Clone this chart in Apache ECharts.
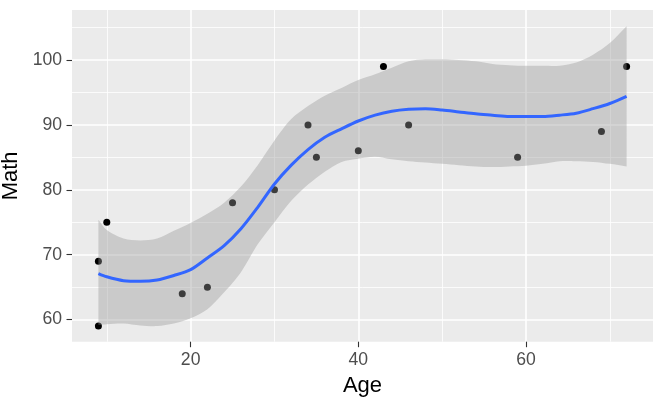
<!DOCTYPE html>
<html>
<head>
<meta charset="utf-8">
<script src="https://cdn.jsdelivr.net/npm/echarts@6/dist/echarts.min.js"></script>
<style>html,body{margin:0;padding:0;background:#fff}#c{width:658px;height:405px}</style>
</head>
<body>
<div id="c"></div>
<script>
// Observed points
const ages = [9, 9, 10, 19, 22, 25, 30, 34, 35, 40, 43, 46, 59, 69, 72];
const math = [59, 69, 75, 64, 65, 78, 80, 90, 85, 86, 99, 90, 85, 89, 99];

// Loess smooth
const fitAge   = [9, 10, 12, 14, 16, 18, 20, 22, 24, 26, 28, 30, 32, 34, 36, 38, 40, 42, 44, 46, 48, 50, 52, 54, 56, 58, 60, 62, 64, 66, 68, 70, 72];
const fitMath  = [67.1, 66.6, 66.0, 65.9, 66.1, 66.8, 67.7, 69.5, 71.4, 74.0, 77.3, 80.9, 83.8, 86.2, 88.1, 89.4, 90.6, 91.5, 92.1, 92.4, 92.5, 92.3, 92.0, 91.7, 91.5, 91.3, 91.3, 91.3, 91.5, 91.8, 92.5, 93.3, 94.4];
const fitUpper = [75.4, 73.8, 72.5, 72.2, 72.5, 73.7, 74.9, 76.3, 78.0, 80.5, 83.8, 87.6, 90.9, 92.9, 94.5, 95.7, 96.9, 97.8, 98.8, 99.8, 100.1, 100.1, 100.0, 99.8, 99.4, 99.2, 99.1, 99.1, 99.1, 99.6, 100.8, 102.6, 105.2];
const fitLower = [59.2, 59.3, 59.4, 59.1, 59.0, 59.4, 60.2, 61.6, 64.2, 67.3, 71.6, 75.0, 78.3, 80.8, 82.8, 84.3, 84.8, 85.1, 84.7, 84.4, 84.2, 84.0, 83.8, 83.6, 83.5, 83.6, 83.7, 84.0, 84.4, 84.4, 84.3, 84.0, 83.6];

// Ticks
const xTicks = [20, 40, 60];
const xMinor = [10, 30, 50, 70];
const yTicks = [60, 70, 80, 90, 100];
const yMinor = [65, 75, 85, 95, 105];

const X_MIN = 5.85, X_MAX = 75.15, Y_MIN = 56.6, Y_MAX = 107.7;
const FONT = 'Liberation Sans, Arial, sans-serif';

const pts = ages.map((a, i) => [a, math[i]]);
const bandData = fitAge.map((a, i) => [a, fitLower[i], fitUpper[i]]);
const linePts = fitAge.map((a, i) => [a, fitMath[i]]);

function renderBand(params, api) {
  if (params.dataIndex !== 0) return null;
  const upper = bandData.map(d => api.coord([d[0], d[2]]));
  const lower = bandData.slice().reverse().map(d => api.coord([d[0], d[1]]));
  // repeat the end vertices so the smoothed outline keeps square ends
  const n = upper.length;
  const outline = [upper[0]].concat(upper).concat([upper[n - 1]])
    .concat([lower[0]]).concat(lower).concat([lower[n - 1]]);
  return {
    type: 'polygon',
    shape: {points: outline, smooth: 0.3},
    style: {fill: 'rgba(153,153,153,0.4)', stroke: null}
  };
}

const chart = echarts.init(document.getElementById('c'), null, {renderer: 'canvas'});
const majorLine = {show: true, lineStyle: {color: '#FFFFFF', width: 1.6}};
const minorLine = {show: true, lineStyle: {color: '#FFFFFF', width: 0.8}};
chart.setOption({
  animation: false,
  backgroundColor: '#FFFFFF',
  grid: {left: 72, right: 5, top: 10, bottom: 63.3, show: true, backgroundColor: '#EBEBEB', borderWidth: 0, containLabel: false, outerBoundsMode: 'none'},
  xAxis: [
    {
      type: 'value', min: X_MIN, max: X_MAX, position: 'bottom',
      name: 'Age', nameLocation: 'middle', nameGap: 33,
      nameTextStyle: {fontFamily: FONT, fontSize: 22, color: '#000000'},
      axisLine: {show: false},
      axisTick: {show: true, customValues: xTicks, length: 5.5, lineStyle: {color: '#333333', width: 1.1}},
      axisLabel: {show: true, customValues: xTicks, margin: 9, fontFamily: FONT, fontSize: 17.6, color: '#4D4D4D'},
      splitLine: majorLine
    },
    {
      type: 'value', min: X_MIN, max: X_MAX, position: 'bottom',
      axisLine: {show: false},
      axisTick: {show: false, customValues: xMinor},
      axisLabel: {show: false, customValues: xMinor},
      splitLine: minorLine
    }
  ],
  yAxis: [
    {
      type: 'value', min: Y_MIN, max: Y_MAX, position: 'left',
      name: 'Math', nameLocation: 'middle', nameGap: 41,
      nameTextStyle: {fontFamily: FONT, fontSize: 22, color: '#000000'},
      axisLine: {show: false},
      axisTick: {show: true, customValues: yTicks, length: 5.5, lineStyle: {color: '#333333', width: 1.1}},
      axisLabel: {show: true, customValues: yTicks, margin: 10, fontFamily: FONT, fontSize: 17.6, color: '#4D4D4D'},
      splitLine: majorLine
    },
    {
      type: 'value', min: Y_MIN, max: Y_MAX, position: 'left',
      axisLine: {show: false},
      axisTick: {show: false, customValues: yMinor},
      axisLabel: {show: false, customValues: yMinor},
      splitLine: minorLine
    }
  ],
  series: [
    {
      type: 'scatter', data: pts, symbol: 'circle', symbolSize: 7,
      itemStyle: {color: '#000000', opacity: 1}, z: 2, silent: true
    },
    {
      type: 'custom', data: bandData, renderItem: renderBand,
      encode: {x: 0, y: [1, 2]}, z: 3, silent: true, clip: true
    },
    {
      type: 'line', data: linePts, smooth: 0.3, symbol: 'none',
      lineStyle: {color: '#3366FF', width: 3}, z: 4, silent: true
    }
  ]
});
</script>
</body>
</html>
